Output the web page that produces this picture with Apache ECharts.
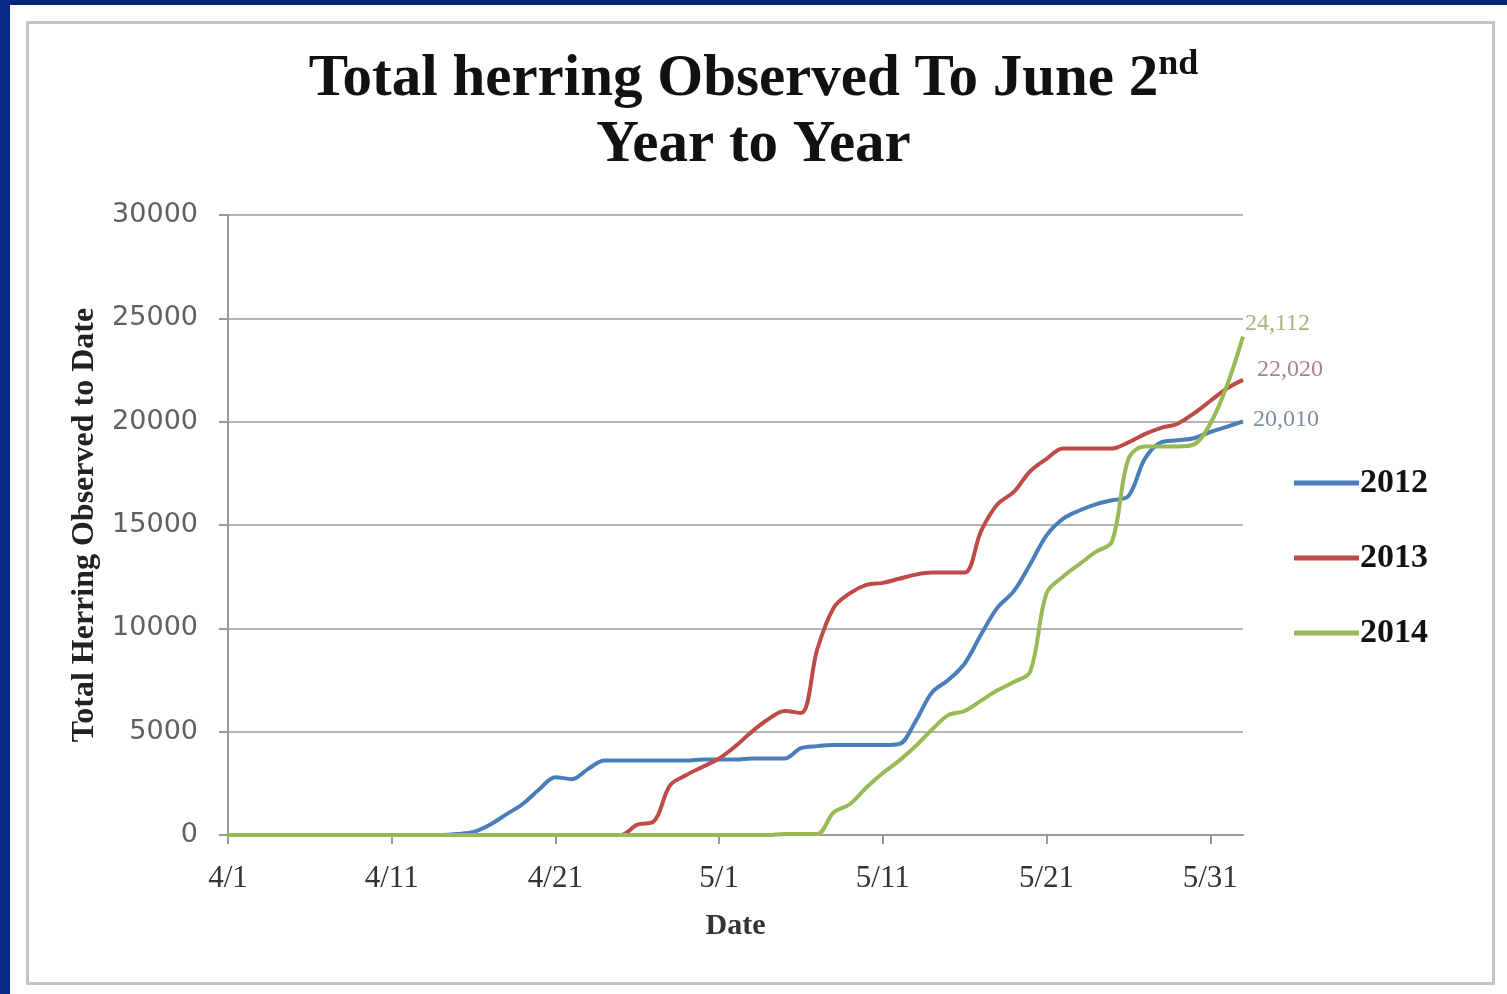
<!DOCTYPE html>
<html>
<head>
<meta charset="utf-8">
<script src="https://cdn.jsdelivr.net/npm/echarts@6/dist/echarts.min.js"></script>
<style>html,body{margin:0;padding:0;background:#fff;}#c{width:1507px;height:994px;}</style>
</head>
<body>
<div id="c"></div>
<script>
// Day labels 4/1 .. 6/2
var categories = [];
(function(){
  for (var d = 1; d <= 30; d++) categories.push('4/' + d);
  for (var d2 = 1; d2 <= 31; d2++) categories.push('5/' + d2);
  for (var d3 = 1; d3 <= 2; d3++) categories.push('6/' + d3);
})();

var y2012 = [0,0,0,0,0,0,0,0,0,0, 0,0,0,0,50,150,500,1000,1500,2200,
  2800,2700,3200,3600,3600,3600,3600,3600,3600,3650,
  3650,3650,3700,3700,3700,4200,4300,4350,4350,4350,
  4350,4400,5500,6900,7500,8300,9700,11000,11800,13100,
  14500,15300,15700,16000,16200,16400,18200,19000,19100,19200,
  19500,19750,20010];

var y2013 = [0,0,0,0,0,0,0,0,0,0, 0,0,0,0,0,0,0,0,0,0,
  0,0,0,0,0,500,650,2400,2900,3300,
  3700,4300,5000,5600,6000,5900,9000,11000,11700,12100,
  12200,12400,12600,12700,12700,12700,14700,16000,16600,17600,
  18200,18700,18700,18700,18700,19000,19400,19700,19900,20400,
  21000,21600,22020];

var y2014 = [0,0,0,0,0,0,0,0,0,0, 0,0,0,0,0,0,0,0,0,0,
  0,0,0,0,0,0,0,0,0,0,
  0,0,0,0,50,50,50,1100,1500,2300,
  3000,3600,4300,5100,5800,6000,6500,7000,7400,7900,
  11700,12500,13100,13700,14200,18200,18800,18800,18800,18900,
  19900,21700,24112];

var seriesNames = ['2012','2013','2014'];
var colors = ['#4A7EBB','#BE4B48','#98B954'];
var labelColors = ['#7d8da8','#a8838a','#a9b283'];
var labelOffsets = [[10,-2],[14,-10],[2,-13]];

var chart = echarts.init(document.getElementById('c'));
var serifB = 'Liberation Serif';
chart.setOption({
  backgroundColor: '#ffffff',
  animation: false,
  graphic: [
    {type:'rect', left:0, top:0, shape:{width:1507, height:5}, style:{fill:'#062677'}, z:100},
    {type:'rect', left:0, top:0, shape:{width:10, height:994}, style:{fill:'#062a86'}, z:100},
    {type:'rect', left:25, top:20, shape:{width:1466, height:961}, style:{fill:'none', stroke:'#c4c4c4', lineWidth:3}, z:-1}
  ],
  title: {
    text: '{a|Total herring Observed To June 2}{s|nd}\n{a|Year to Year}',
    left: 'center',
    top: 42,
    textStyle: {
      rich: {
        a: {fontFamily: serifB, fontWeight: 'bold', fontSize: 59, color: '#111', lineHeight: 66},
        s: {fontFamily: serifB, fontWeight: 'bold', fontSize: 36, color: '#111', lineHeight: 66, verticalAlign: 'top'}
      }
    }
  },
  legend: {
    orient: 'vertical',
    left: 1289,
    top: 461,
    itemWidth: 65,
    itemHeight: 5,
    itemGap: 41,
    icon: 'rect',
    data: seriesNames,
    textStyle: {fontFamily: serifB, fontWeight: 'bold', fontSize: 34, color: '#111', padding: [0,0,0,-4]}
  },
  grid: {left: 228, right: 264, top: 215, bottom: 159, containLabel: false},
  xAxis: {
    type: 'category',
    data: categories,
    boundaryGap: false,
    name: 'Date',
    nameLocation: 'middle',
    nameGap: 76,
    nameTextStyle: {fontFamily: serifB, fontWeight: 'bold', fontSize: 30, color: '#333'},
    axisLine: {lineStyle: {color: '#999', width: 2}},
    axisTick: {interval: 9, length: 9, lineStyle: {color: '#999', width: 2}},
    axisLabel: {interval: 9, fontFamily: serifB, fontSize: 31, color: '#333', margin: 28}
  },
  yAxis: {
    type: 'value',
    min: 0, max: 30000, interval: 5000,
    name: 'Total Herring Observed to Date',
    nameLocation: 'middle',
    nameGap: 120,
    nameTextStyle: {fontFamily: serifB, fontWeight: 'bold', fontSize: 32, color: '#222'},
    axisLine: {show: true, lineStyle: {color: '#999', width: 2}},
    axisTick: {show: true, length: 9, lineStyle: {color: '#999', width: 2}},
    axisLabel: {fontFamily: 'DejaVu Sans', fontSize: 27, color: '#606060', margin: 30,
      formatter: function(v){ return String(v); }},
    splitLine: {lineStyle: {color: '#b4b4b4', width: 2}}
  },
  series: seriesNames.map(function(n, i){
    var arr = [y2012, y2013, y2014][i];
    return {
      name: n, type: 'line', smooth: 0.35, symbol: 'none',
      data: arr,
      lineStyle: {color: colors[i], width: 4},
      itemStyle: {color: colors[i]},
      endLabel: {
        show: true, offset: labelOffsets[i],
        formatter: function(p){ return Number(p.value).toLocaleString('en-US'); },
        color: labelColors[i], fontFamily: serifB, fontSize: 24, distance: 0
      }
    };
  })
});
</script>
</body>
</html>
